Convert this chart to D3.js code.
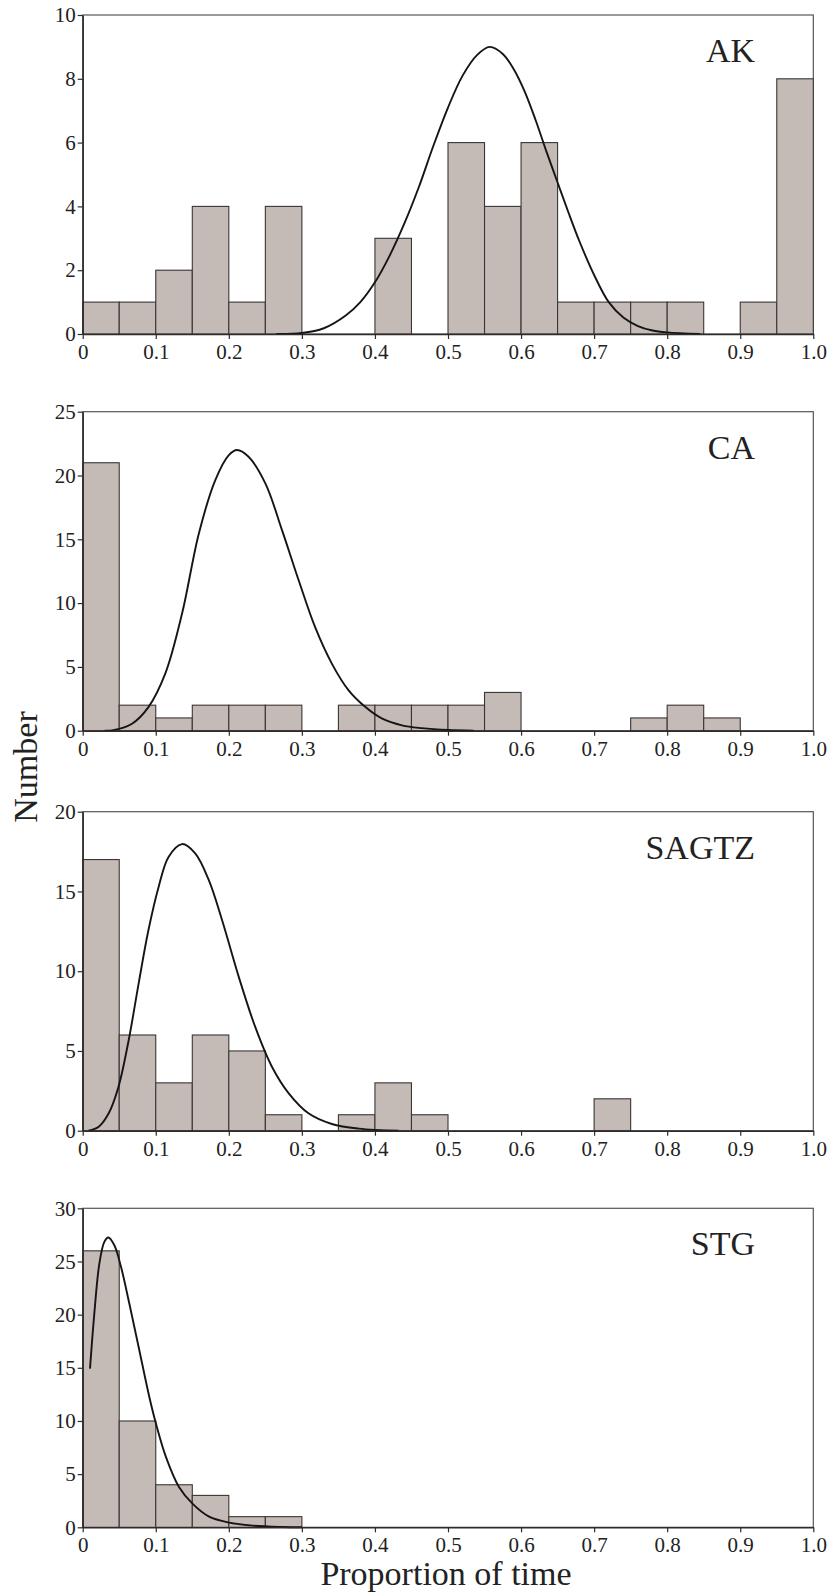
<!DOCTYPE html>
<html>
<head>
<meta charset="utf-8">
<script src="https://cdn.jsdelivr.net/npm/d3@7/dist/d3.min.js"></script>
<style>
  body { margin: 0; background: #fff; }
  text { font-family: "Liberation Serif", "Times New Roman", serif; fill: #222; }
</style>
</head>
<body>
<svg width="832" height="1596"></svg>
<script>
// bin edges (proportion of time, 0.05 wide)
var binEdges = [0, 0.05, 0.1, 0.15, 0.2, 0.25, 0.3, 0.35, 0.4, 0.45, 0.5,
                0.55, 0.6, 0.65, 0.7, 0.75, 0.8, 0.85, 0.9, 0.95, 1.0];

var xTicks = [0, 0.1, 0.2, 0.3, 0.4, 0.5, 0.6, 0.7, 0.8, 0.9, 1.0];
var xTickLabels = ["0", "0.1", "0.2", "0.3", "0.4", "0.5", "0.6", "0.7", "0.8", "0.9", "1.0"];

var panelNames = ["AK", "CA", "SAGTZ", "STG"];

var akCounts    = [1, 1, 2, 4, 1, 4, 0, 0, 3, 0, 6, 4, 6, 1, 1, 1, 1, 0, 1, 8];
var caCounts    = [21, 2, 1, 2, 2, 2, 0, 2, 2, 2, 2, 3, 0, 0, 0, 1, 2, 1, 0, 0];
var sagtzCounts = [17, 6, 3, 6, 5, 1, 0, 1, 3, 1, 0, 0, 0, 0, 2, 0, 0, 0, 0, 0];
var stgCounts   = [26, 10, 4, 3, 1, 1, 0, 0, 0, 0, 0, 0, 0, 0, 0, 0, 0, 0, 0, 0];

var akYTicks    = [0, 2, 4, 6, 8, 10];
var caYTicks    = [0, 5, 10, 15, 20, 25];
var sagtzYTicks = [0, 5, 10, 15, 20];
var stgYTicks   = [0, 5, 10, 15, 20, 25, 30];

// fitted curves, points [x, count]
var akCurve = [[0.265, 0], [0.30, 0.03], [0.33, 0.18], [0.36, 0.58], [0.38, 1.0],
  [0.40, 1.62], [0.42, 2.45], [0.44, 3.45], [0.46, 4.6], [0.48, 5.9], [0.50, 7.1],
  [0.52, 8.1], [0.54, 8.75], [0.557, 9.0], [0.575, 8.78], [0.59, 8.3], [0.605, 7.6],
  [0.62, 6.7], [0.635, 5.7], [0.65, 4.75], [0.665, 3.8], [0.68, 2.9], [0.70, 1.85],
  [0.72, 1.0], [0.74, 0.52], [0.76, 0.25], [0.78, 0.11], [0.80, 0.05], [0.845, 0]];
var caCurve = [[0.03, 0], [0.040, 0.02], [0.0675, 0.55], [0.090, 1.85], [0.113, 4.47],
  [0.136, 9.18], [0.159, 15.46], [0.1815, 19.64], [0.200, 21.6], [0.2112, 22.0],
  [0.227, 21.47], [0.250, 19.38], [0.2728, 15.72], [0.2956, 11.79], [0.318, 8.13],
  [0.341, 5.26], [0.364, 3.16], [0.387, 1.85], [0.410, 0.94], [0.437, 0.42],
  [0.464, 0.2], [0.50, 0.05], [0.535, 0]];
var sagtzCurve = [[0.008, 0], [0.022, 0.25], [0.0356, 1.09], [0.049, 2.76], [0.063, 5.69],
  [0.0766, 9.24], [0.090, 12.58], [0.104, 15.30], [0.1177, 17.18], [0.136, 17.97],
  [0.154, 17.39], [0.1725, 15.72], [0.1907, 13.21], [0.2135, 9.66], [0.236, 6.52],
  [0.259, 4.01], [0.282, 2.34], [0.309, 1.09], [0.341, 0.42], [0.378, 0.13],
  [0.4325, 0]];
var stgCurve = [[0.010, 14.92], [0.0159, 20.1], [0.0228, 24.8], [0.0296, 26.84], [0.035, 27.25],
  [0.0433, 26.52], [0.0524, 24.5], [0.0638, 21.05], [0.0775, 16.65], [0.0912, 12.25],
  [0.1003, 9.74], [0.114, 6.6], [0.132, 3.77], [0.1506, 2.2], [0.173, 1.0],
  [0.2007, 0.44], [0.2327, 0.16], [0.274, 0.03], [0.30, 0]];

var panelCounts = [akCounts, caCounts, sagtzCounts, stgCounts],
    panelYTicks = [akYTicks, caYTicks, sagtzYTicks, stgYTicks],
    panelCurves = [akCurve, caCurve, sagtzCurve, stgCurve];

var svg = d3.select("svg"),
    left = 82.7,
    right = 813.3,
    plotH = 319,
    panelTops = [15, 411.7, 811.7, 1208.3];

var x = d3.scaleLinear().domain([0, 1]).range([left, right]);

panelNames.forEach(function(name, p) {
    var top = panelTops[p],
        ticks = panelYTicks[p],
        counts = panelCounts[p];

    var y = d3.scaleLinear()
        .domain([0, ticks[ticks.length - 1]])
        .range([top + plotH, top]);

    var g = svg.append("g").attr("class", "panel");

    // frame
    g.append("rect")
        .attr("x", left).attr("y", top)
        .attr("width", right - left).attr("height", plotH)
        .attr("fill", "none")
        .attr("stroke", "#5a5552")
        .attr("stroke-width", 1.2);

    // bars
    g.append("g").selectAll("rect")
        .data(counts.map(function(c, i) { return {c: c, x0: binEdges[i], x1: binEdges[i + 1]}; })
                    .filter(function(d) { return d.c > 0; }))
        .enter().append("rect")
        .attr("x", function(d) { return x(d.x0); })
        .attr("y", function(d) { return y(d.c); })
        .attr("width", function(d) { return x(d.x1) - x(d.x0); })
        .attr("height", function(d) { return y(0) - y(d.c); })
        .attr("fill", "#c4bab6")
        .attr("stroke", "#3a3634")
        .attr("stroke-width", 1.1);

    // curve
    g.append("path")
        .datum(panelCurves[p])
        .attr("fill", "none")
        .attr("stroke", "#161414")
        .attr("stroke-width", 1.9)
        .attr("d", d3.line()
            .x(function(d) { return x(d[0]); })
            .y(function(d) { return y(d[1]); })
            .curve(d3.curveCatmullRom));

    // axes
    var ya = g.append("g")
        .attr("transform", "translate(" + left + ",0)")
        .call(d3.axisLeft(y).tickValues(ticks).tickFormat(d3.format("d"))
              .tickSize(5).tickSizeOuter(0).tickPadding(2));
    var xa = g.append("g")
        .attr("transform", "translate(0," + (top + plotH) + ")")
        .call(d3.axisBottom(x).tickValues(xTicks)
              .tickFormat(function(d, i) { return xTickLabels[i]; })
              .tickSize(5).tickSizeOuter(0).tickPadding(5));

    [ya, xa].forEach(function(a) {
        a.attr("font-family", null).attr("font-size", null);
        a.select(".domain").attr("stroke", "#2e2b2a").attr("stroke-width", 1.5);
        a.selectAll(".tick line").attr("stroke", "#2e2b2a").attr("stroke-width", 1.2);
        a.selectAll("text")
            .style("font-family", "'Liberation Serif', 'Times New Roman', serif")
            .style("font-size", "21px")
            .style("fill", "#222");
    });

    // panel label
    g.append("text")
        .attr("x", 755)
        .attr("y", top + 47)
        .attr("text-anchor", "end")
        .attr("font-size", 34)
        .text(name);
});

svg.append("text")
    .attr("transform", "translate(37,767)rotate(-90)")
    .attr("text-anchor", "middle")
    .attr("font-size", 34)
    .text("Number");

svg.append("text")
    .attr("x", 446)
    .attr("y", 1585)
    .attr("text-anchor", "middle")
    .attr("font-size", 34)
    .text("Proportion of time");
</script>
</body>
</html>
